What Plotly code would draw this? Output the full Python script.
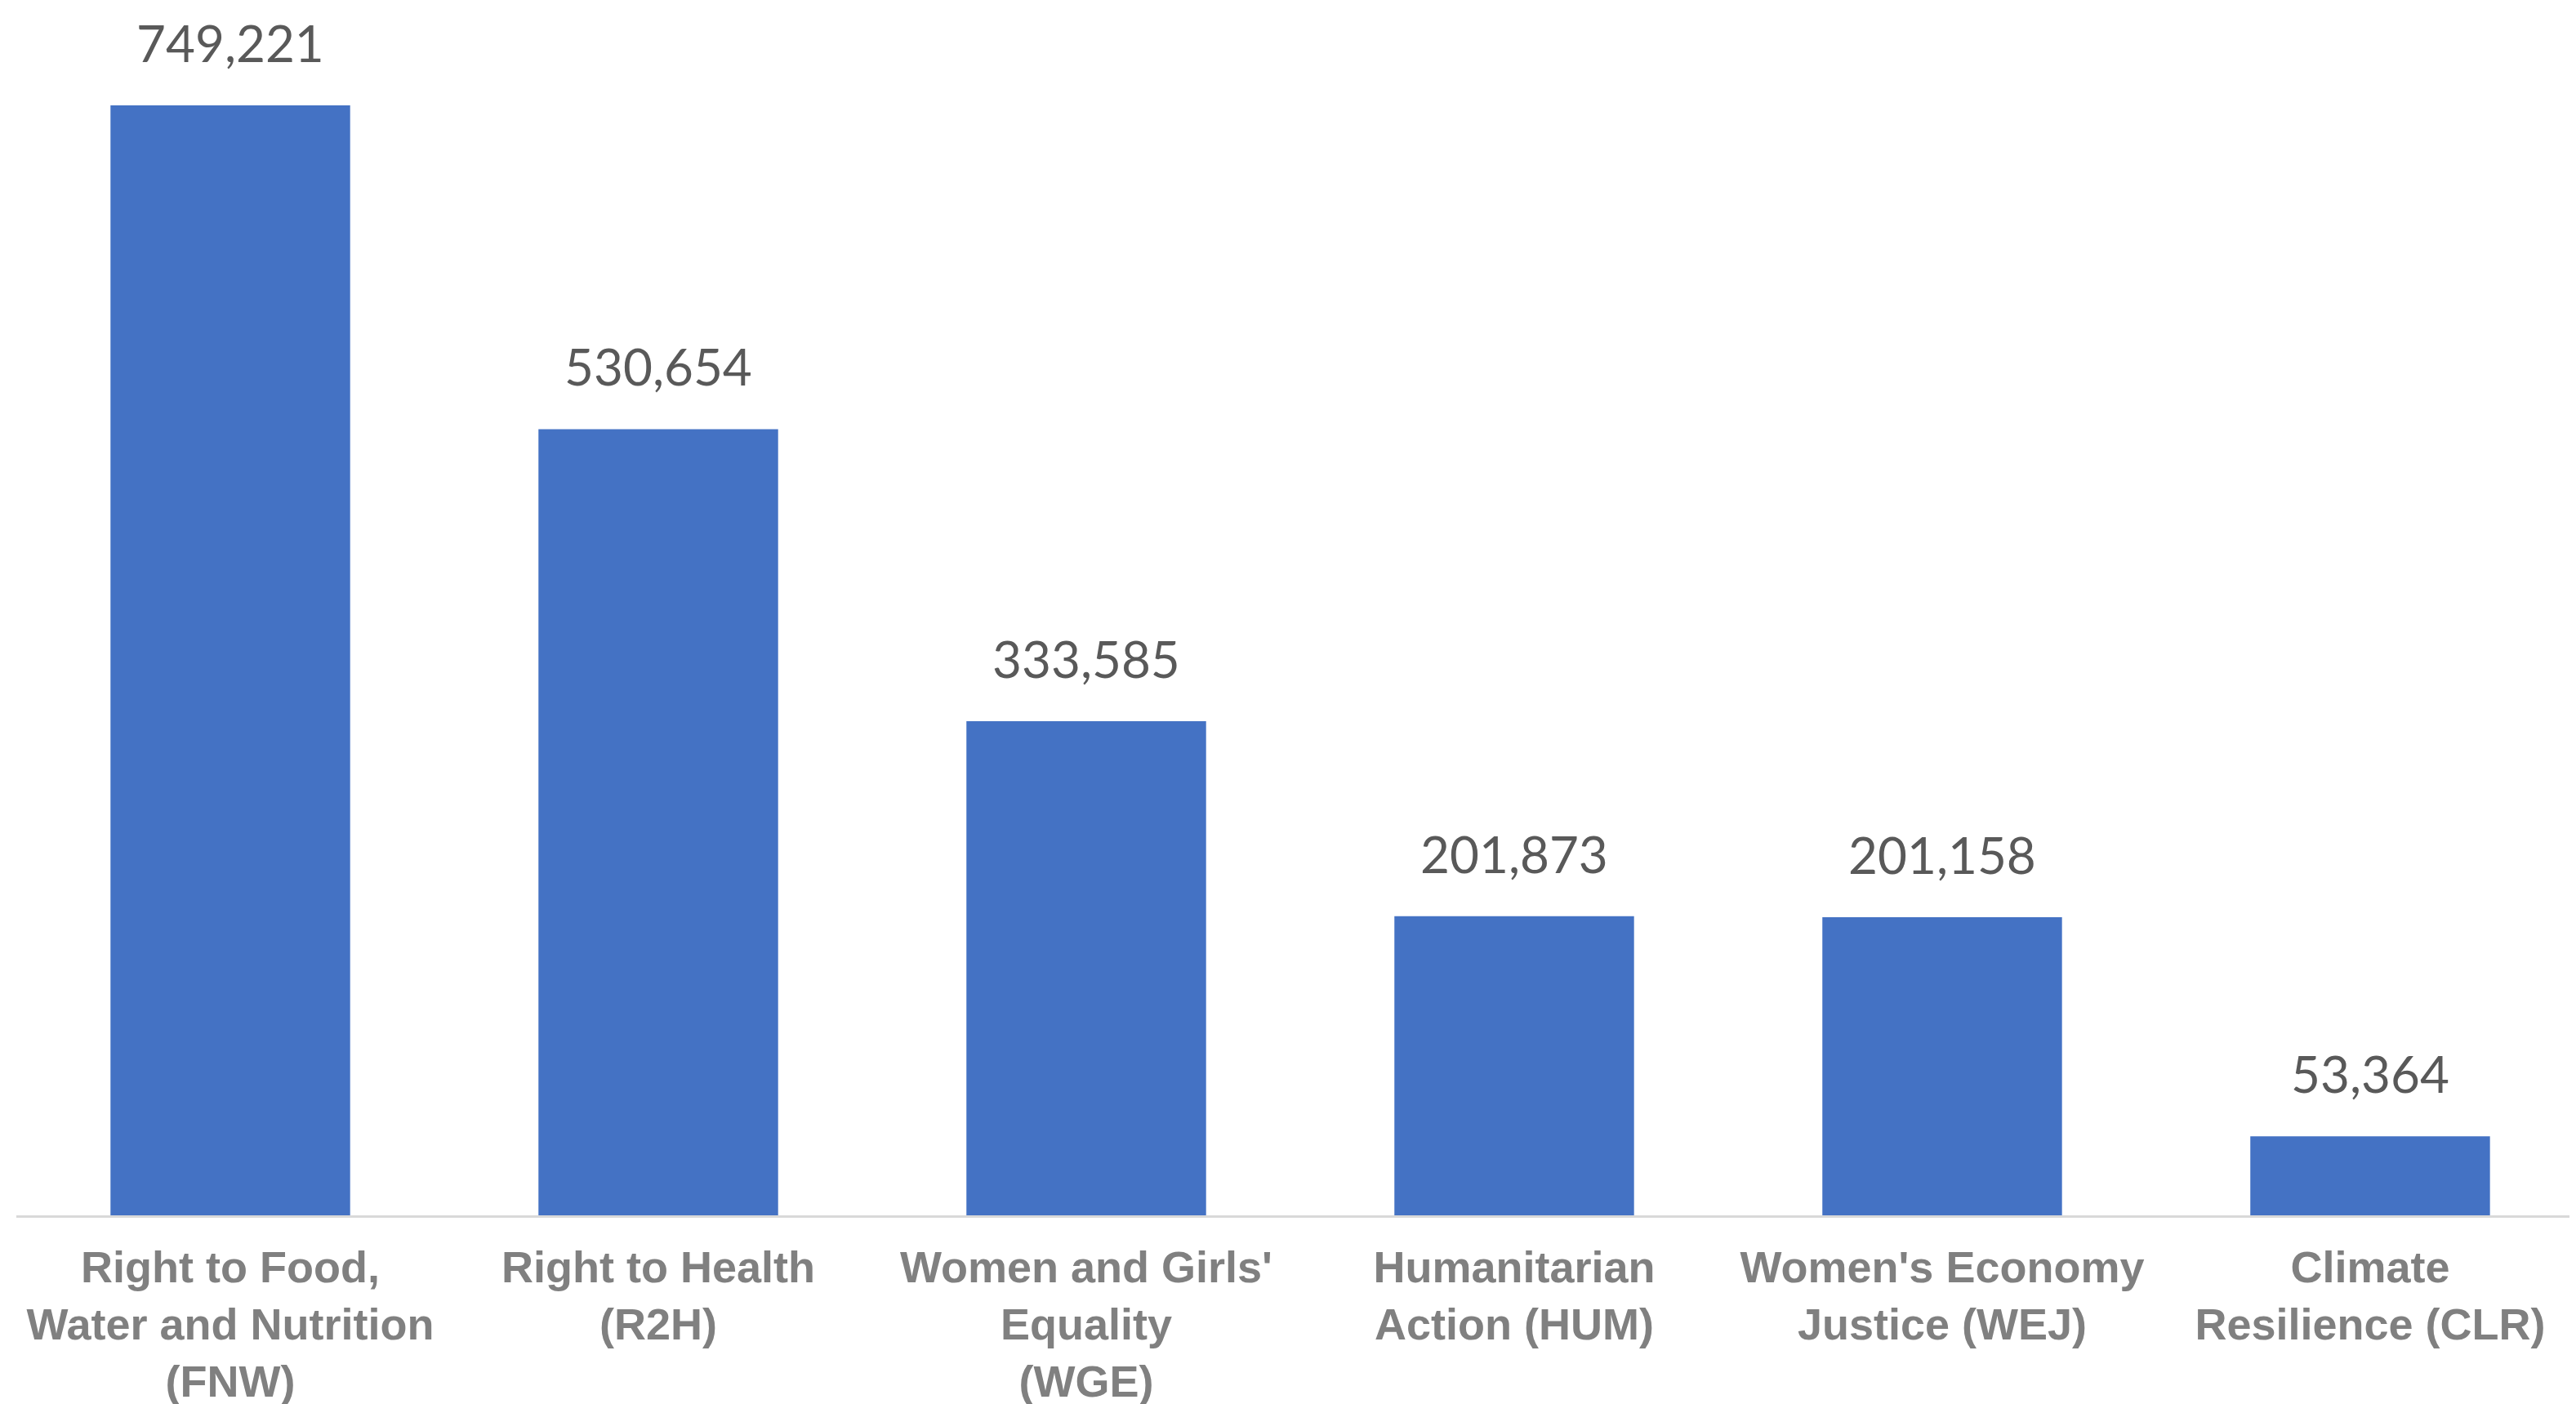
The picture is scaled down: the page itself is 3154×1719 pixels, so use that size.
import plotly.graph_objects as go

categories = ["FNW", "R2H", "WGE", "HUM", "WEJ", "CLR"]
tick_labels = [
    "Right to Food,<br>Water and Nutrition<br>(FNW)",
    "Right to Health<br>(R2H)",
    "Women and Girls'<br>Equality<br>(WGE)",
    "Humanitarian<br>Action (HUM)",
    "Women's Economy<br>Justice (WEJ)",
    "Climate<br>Resilience (CLR)",
]
values = [749221, 530654, 333585, 201873, 201158, 53364]

fig = go.Figure()
fig.add_trace(go.Bar(
    x=categories, y=values,
    marker=dict(color="#4472C4", line=dict(width=0)),
    width=0.56,
    hoverinfo="x+y",
))

for c, v in zip(categories, values):
    fig.add_annotation(
        x=c, y=v, text=f"{v:,}", showarrow=False,
        yanchor="bottom", yshift=38,
        font=dict(family="Lato, Open Sans, sans-serif", size=62, color="#595959"),
    )

fig.update_layout(
    width=3146, height=1711,
    margin=dict(l=12, r=0, t=0, b=231, autoexpand=False),
    paper_bgcolor="white", plot_bgcolor="white",
    showlegend=False,
    bargap=0.44,
)
fig.update_xaxes(
    tickmode="array", tickvals=categories, ticktext=tick_labels,
    tickfont=dict(family="Liberation Sans, Arial, sans-serif", size=54, color="#808080", weight="bold"),
    showline=True, linecolor="#D9D9D9", linewidth=3,
    ticks="", showgrid=False, range=[-0.5, 5.481],
    ticklabelstandoff=14, automargin=False,
)
fig.update_yaxes(
    range=[0, 815930], visible=False, showgrid=False, zeroline=False,
    automargin=False,
)

fig.write_html("out.html")
